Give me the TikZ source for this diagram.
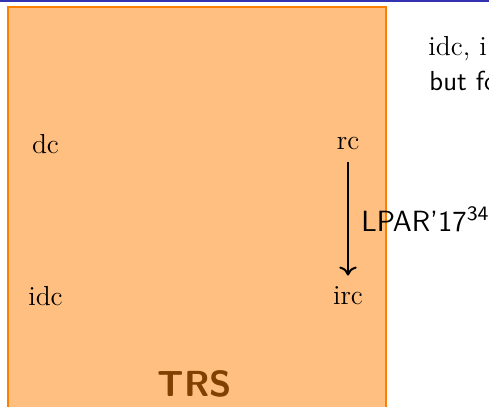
\documentclass[tikz,border=0pt]{standalone}
\usetikzlibrary{positioning,arrows.meta}
\definecolor{headblue}{RGB}{51,51,178}
\definecolor{trsbrown}{RGB}{128,64,0}
\tikzset{
  obj/.style={font=\fontsize{11}{13}\selectfont},
  txt/.style={anchor=base west,inner sep=0pt,font=\fontsize{11}{13}\selectfont}
}
\begin{document}
\begin{tikzpicture}[x=0.4pt,y=-0.4pt,>={To[length=3.6pt,width=7pt]}]
 \useasboundingbox (0,0) rectangle (489,407);
 \clip (0,0) rectangle (489,407);
 % header rule and the orange block
 \fill[headblue] (0,0) rectangle (489,2);
 \filldraw[draw=orange,fill=orange!50,line width=0.8pt] (8,7) rectangle (386,440);
 % the four systems
 \node[obj] (dc) at (45.5,144) {dc};
 \node[obj] (rc) at (348,144) {rc};
 \node[obj] (idc) at (45.5,296) {idc};
 \node[obj] (irc) at (348,296) {irc};
 \draw[->,line width=0.8pt,shorten <=1pt,shorten >=1pt] (rc) -- (irc)
 node[pos=0.5,anchor=base west,inner sep=0pt,xshift=5pt,yshift=-5.2pt,
 font=\fontsize{11.7}{14}\sffamily] (lpar) {LPAR'17\textsuperscript{34}};
 \node[font=\fontsize{14.5}{16}\sffamily\bfseries,text=trsbrown] (trs) at (195,384) {TRS};
 % running text beside the block
 \node[txt] (line1) at (428,55) {idc, i};
 \node[txt,font=\fontsize{11}{13}\sffamily] (line2) at (429,90) {but fo};
\end{tikzpicture}
\end{document}
